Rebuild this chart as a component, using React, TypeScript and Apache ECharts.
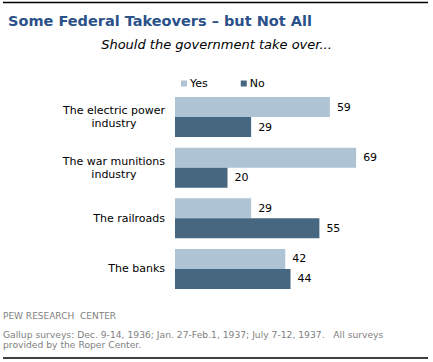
import React, { useEffect, useRef } from "react";
import * as echarts from "echarts";

const categories = [
  "The electric power\nindustry",
  "The war munitions\nindustry",
  "The railroads",
  "The banks",
];
const yesValues = [59, 69, 29, 42];
const noValues = [29, 20, 55, 44];
const seriesNames = ["Yes", "No"];
const titleText = "Some Federal Takeovers \u2013 but Not All";
const subtitleText = "Should the government take over...";
const sourceText = "PEW RESEARCH  CENTER";
const noteLines = [
  "Gallup surveys: Dec. 9-14, 1936; Jan. 27-Feb.1, 1937; July 7-12, 1937.   All surveys",
  "provided by the Roper Center.",
];

const FONT = "'DejaVu Sans', Verdana, sans-serif";

export default function App() {
  const ref = useRef<HTMLDivElement>(null);
  useEffect(() => {
    document.body.style.margin = "0";
    if (!ref.current) return;
    const chart = echarts.init(ref.current, undefined, { renderer: "svg" });
    chart.setOption({
      animation: false,
      backgroundColor: "#fff",
      textStyle: { fontFamily: FONT },
      title: [
        {
          text: titleText,
          left: 3,
          top: 8,
          textStyle: { fontFamily: FONT, fontSize: 14.5, fontWeight: "bold", color: "#2B5189" },
        },
        {
          text: subtitleText,
          left: "center",
          top: 33,
          textStyle: { fontFamily: FONT, fontSize: 13, fontStyle: "italic", fontWeight: "normal", color: "#000" },
        },
      ],
      legend: {
        data: seriesNames,
        left: 176,
        top: 73,
        icon: "rect",
        itemWidth: 6,
        itemHeight: 6,
        itemGap: 33,
        textStyle: { fontFamily: FONT, fontSize: 11, color: "#000", padding: [0, 0, 0, -2] },
      },
      grid: { left: 175, right: 48, top: 91.67, bottom: 67.67, containLabel: false },
      xAxis: {
        type: "value",
        min: 0,
        max: 80,
        show: false,
      },
      yAxis: {
        type: "category",
        data: categories,
        inverse: true,
        axisLine: { show: false },
        axisTick: { show: false },
        axisLabel: {
          margin: 10,
          color: "#000",
          fontFamily: FONT,
          fontSize: 11,
          lineHeight: 13,
          formatter: (v: string) =>
            v
              .split("\n")
              .map((s) => `{c|${s}}`)
              .join("\n"),
          rich: { c: { align: "center", fontFamily: FONT, fontSize: 11, lineHeight: 13, color: "#000" } },
        },
      },
      series: [
        {
          name: seriesNames[0],
          type: "bar",
          data: yesValues,
          barWidth: 20,
          barGap: "0%",
          itemStyle: { color: "#AEC4D4" },
          label: { show: true, position: "right", distance: 7, color: "#000", fontFamily: FONT, fontSize: 11 },
        },
        {
          name: seriesNames[1],
          type: "bar",
          data: noValues,
          barWidth: 20,
          barGap: "0%",
          itemStyle: { color: "#46677F" },
          label: { show: true, position: "right", distance: 7, color: "#000", fontFamily: FONT, fontSize: 11 },
        },
      ],
      graphic: [
        { type: "line", shape: { x1: 3, y1: 2.5, x2: 428, y2: 2.5 }, style: { stroke: "#000", lineWidth: 1.5 } },
        { type: "line", shape: { x1: 3, y1: 358, x2: 428, y2: 358 }, style: { stroke: "#000", lineWidth: 1.5 } },
        {
          type: "text",
          left: 3,
          top: 311,
          style: { text: sourceText, fontFamily: FONT, fontSize: 9, fill: "#7F7F7F" },
        },
        {
          type: "text",
          left: 3,
          top: 329,
          style: { text: noteLines.join("\n"), fontFamily: FONT, fontSize: 9.2, lineHeight: 10, fill: "#7F7F7F" },
        },
      ],
    });
    return () => chart.dispose();
  }, []);
  return <div ref={ref} style={{ width: 433, height: 362 }} />;
}
